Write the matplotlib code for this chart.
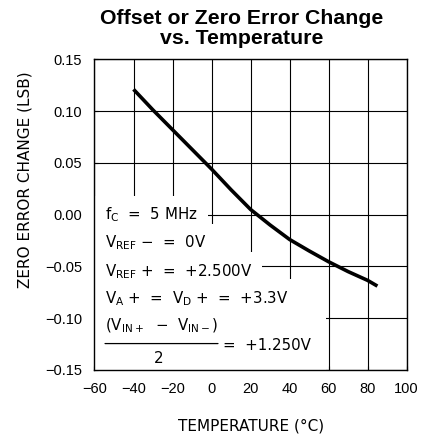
import matplotlib
matplotlib.use("Agg")
import matplotlib.pyplot as plt
from matplotlib.patches import Rectangle

temps = [-40, -30, -20, -10, 0, 10, 20, 30, 40, 50, 60, 70, 80, 85]
zero_err = [0.121, 0.101, 0.082, 0.063, 0.044, 0.024, 0.005, -0.010,
            -0.024, -0.035, -0.0455, -0.055, -0.0635, -0.069]

x_ticks = [-60, -40, -20, 0, 20, 40, 60, 80, 100]
y_ticks = [-0.15, -0.10, -0.05, 0.00, 0.05, 0.10, 0.15]

plt.rcParams['mathtext.fontset'] = 'custom'
plt.rcParams['mathtext.rm'] = 'DejaVu Sans'

fig = plt.figure(figsize=(4.23, 4.38), dpi=100)
ax = fig.add_axes([0.2234, 0.1553, 0.738, 0.7093])

ax.plot(temps, zero_err, color='black', lw=2.6, zorder=4, solid_capstyle='butt')

ax.set_xlim(-60, 100)
ax.set_ylim(-0.15, 0.15)
ax.set_xticks(x_ticks)
ax.set_yticks(y_ticks)
ax.set_xticklabels([str(t).replace('-', '\u2212') for t in x_ticks],
                   fontname='Liberation Sans', fontsize=10.5)
ax.set_yticklabels([f'{v:.2f}'.replace('-', '\u2212') for v in y_ticks],
                   fontname='Liberation Sans', fontsize=10.5)
ax.tick_params(direction='in', length=3, width=0.8, pad=9, color='black')
ax.grid(True, color='black', lw=0.8)
for s in ax.spines.values():
    s.set_linewidth(1.0)

ax.set_xlabel('TEMPERATURE (\u00b0C)', fontname='DejaVu Sans', fontsize=11, labelpad=16)
ax.set_ylabel('ZERO ERROR CHANGE (LSB)', fontname='DejaVu Sans', fontsize=11)
ax.yaxis.set_label_coords(-0.20, 0.611)

fig.text(0.571, 0.935, 'Offset or Zero Error Change\nvs. Temperature',
         ha='center', va='center', fontname='Liberation Sans', fontweight='bold',
         fontsize=15.3, linespacing=1.03)

# conditions box
fs = 10.8
box = dict(facecolor='white', edgecolor='none', pad=7.0)
lines = [
    (0.000, r'$\mathregular{f_C}$  =  5 MHz'),
    (-0.027, r'$\mathregular{V_{REF}}$ ' + '\u2212  =  0V'),
    (-0.055, r'$\mathregular{V_{REF}}$ +  =  +2.500V'),
    (-0.081, r'$\mathregular{V_A}$ +  =  $\mathregular{V_D}$ +  =  +3.3V'),
]
for y, s in lines:
    ax.text(-54.5, y, s, fontname='DejaVu Sans', fontsize=fs,
            va='center', ha='left', bbox=box, zorder=2)

ax.add_patch(Rectangle((-60, -0.15), 118.5, 0.0755, facecolor='white',
                       edgecolor='none', zorder=1.8))
ax.text(-54.5, -0.107, r'$\mathregular{(V_{IN+}}$  ' + '\u2212' + r'  $\mathregular{V_{IN-})}$',
        fontname='DejaVu Sans', fontsize=fs, va='center', ha='left', zorder=3)
ax.annotate('', xy=(3.3, -0.1245), xytext=(-54.6, -0.1245),
            arrowprops=dict(arrowstyle='-', lw=0.9, color='black',
                            shrinkA=0, shrinkB=0), zorder=3)
ax.text(-27.2, -0.139, '2', fontname='DejaVu Sans', fontsize=fs,
        va='center', ha='center', zorder=3)
ax.text(5.9, -0.1265, '=  +1.250V', fontname='DejaVu Sans', fontsize=fs,
        va='center', ha='left', zorder=3)

fig.savefig('out.png', dpi=100)
